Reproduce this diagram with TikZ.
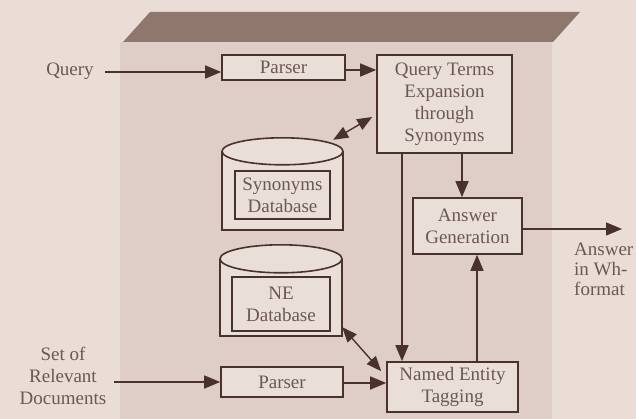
\documentclass[tikz,border=0pt]{standalone}
\usepackage{fontspec}
\setmainfont{Liberation Serif}
\usetikzlibrary{arrows.meta,calc}
\definecolor{bg}{RGB}{234,221,214}
\definecolor{panel}{RGB}{222,206,199}
\definecolor{band}{RGB}{142,120,110}
\definecolor{ink}{RGB}{74,50,44}
\definecolor{txt}{RGB}{108,88,82}
\definecolor{boxfill}{RGB}{234,222,216}
\begin{document}
\begin{tikzpicture}[x=1pt,y=-1pt,
  lbl/.style={font=\fontsize{19}{22}\selectfont, text=txt, align=center, inner sep=0pt},
  box/.style={lbl, draw=ink, line width=1.6pt, fill=boxfill, inner sep=0pt},
  cylbody/.style={draw=ink, line width=1.6pt, fill=boxfill},
  arr/.style={draw=ink, line width=1.4pt, -{Triangle[length=16pt,width=13pt]}},
  darr/.style={draw=ink, line width=1.4pt, {Triangle[length=15pt,width=12pt]}-{Triangle[length=15pt,width=12pt]}},
  ln/.style={draw=ink, line width=1.4pt}]
\useasboundingbox (0,0) rectangle (636,419);
\fill[bg] (0,0) rectangle (636,419);
% panel and top band
\fill[panel] (120,42) rectangle (552,419);
\fill[band] (123,42) -- (150,12) -- (580,12) -- (553,42) -- cycle;

% boxes
\node[box, minimum width=123pt, minimum height=25pt] (p1) at (283.5,67.5) {Parser};
\node[box, minimum width=135pt, minimum height=98pt] (qte) at (444.5,104) {Query Terms\\Expansion\\through\\Synonyms};
\node[box, minimum width=109pt, minimum height=56pt] (ag) at (467.5,226) {Answer\\Generation};
\node[box, minimum width=131pt, minimum height=50pt] (net) at (452.5,387) {Named Entity\\Tagging};
\node[box, minimum width=122pt, minimum height=30pt] (p2) at (282,382) {Parser};

% synonyms database cylinder
\node[minimum width=121pt, minimum height=92pt, inner sep=0pt] (syn) at (282.5,184) {};
\draw[cylbody] ($(syn.north west)+(0,13.5)$) -- (syn.south west) -- (syn.south east) -- ($(syn.north east)+(0,13.5)$);
\draw[cylbody] ($(syn.north)+(0,13.5)$) ellipse [x radius=60.5pt, y radius=13.5pt];
\node[box, minimum width=95pt, minimum height=48pt] (syni) at (282.5,195) {Synonyms\\Database};

% NE database cylinder
\node[minimum width=122pt, minimum height=91pt, inner sep=0pt] (ne) at (281,290.5) {};
\draw[cylbody] ($(ne.north west)+(0,14)$) -- (ne.south west) -- (ne.south east) -- ($(ne.north east)+(0,14)$);
\draw[cylbody] ($(ne.north)+(0,14)$) ellipse [x radius=61pt, y radius=14pt];
\node[box, minimum width=98pt, minimum height=54pt] (nei) at (281,304) {NE\\Database};

% outside labels
\node[lbl] (query) at (70,71) {Query};
\node[lbl] (docs) at (63,376) {Set of\\Relevant\\Documents};
\node[lbl, align=left, anchor=north west, font=\fontsize{19}{20}\selectfont] (ans) at (574,243) {Answer\\in Wh-\\format};

% helper coordinates
\coordinate (c1) at (462,0);
\coordinate (c2) at (402,0);
\coordinate (c3) at (477,0);
\coordinate (ansend) at (622,229);

% connectors
\draw[arr] ($(query.east)+(11,1)$) -- (p1.west |- 0,72);
\draw[arr] (p1.east |- 0,70) -- (qte.west |- 0,70);
\draw[darr] ($(syn.north east)+(-10,2)$) -- ($(qte.west)+(-4,13)$);
\draw[arr] (qte.south -| c1) -- (ag.north -| c1);
\draw[arr] (qte.south -| c2) -- (net.north -| c2);
\draw[arr] (net.north -| c3) -- (ag.south -| c3);
\draw[arr] (ag.east |- ansend) -- (ansend);
\draw[arr] ($(docs.east)+(8,6)$) -- (p2.west |- 0,382);
\draw[arr] (p2.east |- 0,383) -- (net.west |- 0,383);
\draw[darr] ($(ne.south east)+(0,-9)$) -- ($(net.north west)+(-5,10)$);
\end{tikzpicture}
\end{document}
